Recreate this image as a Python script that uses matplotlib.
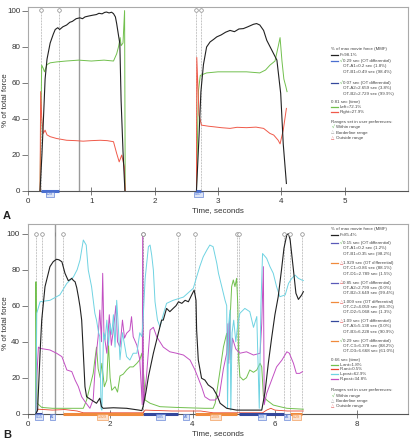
import matplotlib
matplotlib.use('Agg')
import matplotlib.pyplot as plt
from matplotlib.lines import Line2D

# ---------------- Panel A data ----------------
a_black1_t = [0.19, 0.22, 0.25, 0.27, 0.30, 0.35, 0.40, 0.43, 0.47, 0.50, 0.55, 0.61, 0.66, 0.70, 0.76, 0.82, 0.86, 0.90, 0.96, 1.03, 1.08, 1.12, 1.17, 1.21, 1.24, 1.28, 1.32, 1.35, 1.38, 1.40, 1.43, 1.45, 1.47, 1.50, 1.53]
a_black1_v = [0, 20, 45, 62, 73, 82, 87, 89.5, 90.5, 89.5, 91, 92, 93.5, 94, 95.5, 96, 95.5, 96.5, 97, 97.5, 97.8, 98.5, 98.2, 99, 99.2, 98.7, 99.1, 98.3, 96.5, 92.8, 86, 81.7, 50, 22, 0]
a_green1_t = [0.19, 0.20, 0.216, 0.24, 0.26, 0.30, 0.35, 0.45, 0.60, 0.80, 1.00, 1.20, 1.35, 1.40, 1.43, 1.455, 1.47, 1.50, 1.525, 1.535]
a_green1_v = [0, 30, 69.7, 68, 66, 70, 71, 71.5, 72, 72.5, 72, 72.5, 72, 76, 80, 85, 80.5, 82, 100, 0]
a_red1_t = [0.19, 0.20, 0.216, 0.24, 0.27, 0.30, 0.35, 0.45, 0.61, 0.75, 0.87, 1.00, 1.14, 1.25, 1.35, 1.40, 1.44, 1.48, 1.52, 1.535]
a_red1_v = [0, 55, 41, 31.8, 33.6, 31, 30, 29, 28, 27.8, 27.5, 27.8, 28, 27.8, 27.2, 20.7, 16, 19.8, 13.3, 0]

a_black2_t = [2.66, 2.70, 2.73, 2.77, 2.82, 2.875, 2.93, 2.98, 3.05, 3.12, 3.19, 3.26, 3.33, 3.40, 3.47, 3.56, 3.61, 3.66, 3.72, 3.77, 3.85, 3.93, 3.99, 4.03, 4.08]
a_black2_v = [0, 30, 55, 70, 79.8, 82.6, 84, 85.4, 86.5, 88, 89, 88.3, 89.8, 90, 91, 92.4, 92.8, 92, 89, 83.5, 78, 72.5, 54, 26, 4]
a_green2_t = [2.66, 2.69, 2.72, 2.82, 3.00, 3.19, 3.45, 3.66, 3.75, 3.82, 3.90, 3.95, 3.98, 4.01, 4.04, 4.07, 4.09]
a_green2_v = [0, 55, 64, 65.4, 66, 66, 66, 65.4, 67, 69.7, 72, 80, 85, 72, 62, 58, 55]
a_red2_t = [2.66, 2.665, 2.70, 2.74, 2.85, 2.93, 3.05, 3.19, 3.30, 3.45, 3.60, 3.72, 3.82, 3.88, 3.95, 3.98, 4.03, 4.08]
a_red2_v = [0, 74, 42, 36.4, 35.8, 35.5, 35, 34.6, 35.2, 35, 35.3, 34.6, 31.8, 30.9, 28, 26, 33.6, 45.7]

a_ot_times = [0.2, 0.49, 2.659, 2.729]
a_time_cursor = 0.81
a_bars = [(0.2, 0.49), (2.659, 2.729)]
a_box_labels = ["0.29", "0.07"]
a_xticks = [0, 1, 2, 3, 4, 5]

# ---------------- Panel B data ----------------
b_black_t = [0.20, 0.24, 0.30, 0.34, 0.42, 0.54, 0.62, 0.70, 0.76, 0.83, 0.905, 0.985, 1.03, 1.07, 1.11, 1.15, 1.19, 1.23, 1.27, 1.31, 1.35, 1.39, 1.43, 1.55, 1.67, 1.75, 1.79, 1.83, 2.08, 2.40, 2.70, 2.77, 2.80, 2.87, 2.93, 3.05, 3.17, 3.25, 3.29, 3.37, 3.45, 3.53, 3.60, 3.66, 3.74, 3.82, 3.90, 3.98, 4.04, 4.085, 4.10, 4.14, 4.22, 4.30, 4.38, 4.50, 4.59, 4.67, 4.83, 5.07, 5.56, 5.68, 5.76, 5.84, 5.92, 6.00, 6.08, 6.16, 6.22, 6.29, 6.33, 6.37, 6.45, 6.51, 6.57, 6.65, 6.69]
b_black_v = [0, 2, 33.6, 52, 70.6, 81.7, 84.5, 85.8, 85.5, 84.4, 78, 73.9, 74.5, 75.2, 74, 73.3, 70, 65, 59.4, 52, 33.6, 15, 9.4, 7.6, 5.8, 8.6, 4, 3, 3.3, 3, 2, 1.7, 4, 12, 20.6, 33.6, 44.7, 52, 52, 58.5, 56.7, 58.5, 60, 62.2, 61.3, 63, 62.2, 66, 68.7, 63, 46.5, 29.8, 19.7, 18.7, 16, 14, 10.4, 5.8, 3, 2, 2, 2, 12, 28, 42, 55, 65, 80, 92, 99.5, 100, 96.5, 79.8, 66.9, 63.5, 66, 67.8]

b_cyan_t = [0.20, 0.22, 0.30, 0.54, 0.78, 0.95, 1.11, 1.20, 1.27, 1.31, 1.35, 1.42, 1.47, 1.55, 1.63, 1.67, 1.72, 1.75, 1.78, 1.80, 1.84, 1.88, 1.92, 1.96, 2.00, 2.04, 2.08, 2.12, 2.16, 2.20, 2.24, 2.30, 2.40, 2.48, 2.56, 2.65, 2.72, 2.77, 2.80, 2.85, 2.93, 2.97, 3.01, 3.05, 3.09, 3.15, 3.21, 3.29, 3.37, 3.53, 3.78, 4.02, 4.10, 4.18, 4.26, 4.35, 4.42, 4.50, 4.59, 4.63, 4.71, 4.79, 4.83, 4.85, 4.88, 4.91, 4.93, 4.96, 5.00, 5.05, 5.10, 5.15, 5.27, 5.39, 5.48, 5.56, 5.60, 5.62, 5.66, 5.70, 5.80, 5.88, 5.96, 6.04, 6.12, 6.25, 6.33, 6.41, 6.49, 6.57, 6.65, 6.69]
b_cyan_v = [0, 55.8, 62.2, 63, 66, 72.4, 76, 80, 85.4, 91, 96.5, 93.7, 79.8, 70.6, 55.8, 52, 45, 42.8, 3, 2, 45, 41, 52, 38, 50, 44, 55, 37, 63, 48, 30, 45, 31.7, 29.8, 33.6, 33.6, 45, 42.8, 52, 75, 92.8, 93.7, 88, 79.8, 62.2, 52, 48.3, 55, 61.3, 63, 64.8, 69.7, 76, 82, 87.2, 91, 93.7, 92.8, 83.5, 78, 70.6, 63, 60, 3, 50, 57.6, 2, 45, 52, 40, 50, 55.8, 58.5, 56.7, 48, 54, 20, 3, 60, 89, 86.3, 81.7, 78, 70.6, 65, 66, 72.4, 75.2, 77, 75.2, 74.3, 74]

b_mag_t = [0.20, 0.22, 0.26, 0.30, 0.54, 0.70, 0.83, 0.95, 1.07, 1.15, 1.23, 1.31, 1.39, 1.51, 1.59, 1.65, 1.71, 1.75, 1.79, 1.82, 1.85, 1.92, 1.98, 2.03, 2.08, 2.14, 2.18, 2.24, 2.30, 2.35, 2.40, 2.48, 2.52, 2.56, 2.65, 2.72, 2.78, 2.79, 2.81, 2.88, 2.97, 3.05, 3.13, 3.29, 3.45, 3.61, 3.78, 3.94, 4.06, 4.14, 4.22, 4.30, 4.42, 4.55, 4.65, 4.75, 4.83, 4.86, 4.88, 4.90, 4.93, 4.97, 5.05, 5.15, 5.31, 5.48, 5.64, 5.68, 5.72, 5.74, 5.80, 5.92, 6.04, 6.17, 6.29, 6.35, 6.45, 6.52, 6.60, 6.67]
b_mag_v = [0, 20, 37, 36.3, 35.4, 33.6, 31.7, 24.3, 23.4, 18.7, 15, 9.4, 6.7, 3, 8, 30, 42.8, 57.6, 40, 78, 45, 33.6, 55, 38, 46.5, 60, 40, 37, 52, 42, 44.7, 46.5, 53.9, 42.8, 38, 30, 5, 100, 5, 20, 46.5, 48, 42.8, 37, 34.4, 33.6, 32.6, 29.8, 24.3, 19.7, 15, 9.4, 7.6, 7.6, 10, 25, 33.6, 50, 28, 55, 30, 42, 36, 33.6, 34.4, 32.6, 33.6, 50, 81.7, 5, 11.3, 18.7, 26, 29.8, 34.4, 33.6, 28, 22.4, 22.4, 23.4]

b_green_t = [0.19, 0.20, 0.215, 0.23, 0.34, 0.60, 1.00, 1.35, 1.43, 1.51, 1.59, 1.63, 1.67, 1.71, 1.76, 1.80, 1.86, 1.92, 1.96, 2.00, 2.04, 2.12, 2.18, 2.24, 2.32, 2.40, 2.48, 2.56, 2.65, 2.72, 2.77, 2.82, 2.85, 2.97, 3.21, 3.60, 4.00, 4.30, 4.50, 4.55, 4.67, 4.75, 4.83, 4.88, 4.91, 4.95, 4.99, 5.03, 5.07, 5.10, 5.12, 5.15, 5.23, 5.31, 5.39, 5.48, 5.56, 5.64, 5.68, 5.72, 5.80, 5.96, 6.12, 6.29, 6.45, 6.69]
b_green_v = [0, 73.3, 30, 5.8, 3.5, 3, 3, 3, 7.6, 15, 22.4, 30, 37, 25, 20, 28, 15, 18.7, 39, 20, 13, 15, 12, 21, 22, 24.3, 26, 26, 28, 30, 33.6, 20, 7.6, 5.8, 3.9, 3.5, 3.2, 3, 3, 5.8, 24.3, 37, 44.7, 30, 52, 70.6, 74.3, 70.6, 75.2, 60, 30, 20.6, 18.7, 20, 24.3, 23, 24.3, 28, 26, 10, 7.6, 4.8, 3.9, 3, 2.8, 2.5]

b_rant_t = [0.20, 0.25, 0.60, 0.90, 1.20, 1.35, 2.80, 2.85, 3.50, 4.20, 4.50, 5.70, 5.80, 5.90, 6.00, 6.30, 6.69]
b_rant_v = [0, 2.5, 2, 2.3, 1.5, 0.5, 0.5, 2, 1.5, 1.5, 0.5, 0.5, 2, 3, 2, 1.5, 1.5]

b_ot_times = [0.2, 0.35, 0.86, 2.789, 2.799, 3.649, 4.059, 5.068, 5.138, 6.228, 6.378, 6.668]
b_time_cursor = 0.66
b_bars_ab = [(0.2, 0.35), (2.799, 3.649), (5.138, 6.228)]
b_bars_cd = [(0.86, 2.789), (4.059, 5.068), (6.378, 6.668)]
b_box_pos = [0.275, 0.60, 1.82, 3.22, 3.84, 4.56, 5.68, 6.29, 6.52]
b_box_kind = ['ab', 'ab', 'cd', 'ab', 'ab', 'cd', 'ab', 'ab', 'cd']
b_box_labels = ["0.15", "A1", "1.929", "0.85", "A2", "1.009", "1.09", "A3", "0.29"]
b_xticks = [0, 2, 4, 6, 8]

# ---------------- styling ----------------
W, H = 411, 441
FONT = ['Liberation Sans Narrow', 'Liberation Sans', 'DejaVu Sans']
plt.rcParams['font.family'] = FONT

C_BLACK = '#222222'
C_GREEN = '#72c04e'
C_RED = '#f05a4a'
C_CYAN = '#6fd3e2'
C_MAG = '#c24fc2'
C_NAVY = '#34489c'
C_BLUE = '#4a6fd0'
C_ORANGE = '#f08a3c'
C_RANT = '#e8432a'
C_TXT = '#444444'

fig = plt.figure(figsize=(W / 100, H / 100), dpi=100)


def fx(x):
    return x / W


def fy(y):
    return 1 - y / H


axA = fig.add_axes([fx(28), fy(190.7), (408 - 28) / W, (190.7 - 7) / H])
axB = fig.add_axes([fx(27.7), fy(413.7), (408 - 27.7) / W, (413.7 - 224) / H])


def style(ax, xmax, ymax, xticks):
    ax.set_xlim(0, xmax)
    ax.set_ylim(0, ymax)
    for s in ['top', 'right', 'left']:
        ax.spines[s].set_color('#aaaaaa')
        ax.spines[s].set_linewidth(0.8)
    ax.spines['bottom'].set_color('#555555')
    ax.spines['bottom'].set_linewidth(0.8)
    ax.set_yticks([0, 20, 40, 60, 80, 100])
    ax.set_xticks(xticks)
    ax.tick_params(axis='y', direction='out', length=4, width=0.6, color='#666666',
                   labelsize=5.8, pad=1.5, labelcolor='#333333')
    ax.tick_params(axis='x', direction='inout', length=6, width=0.6, color='#666666',
                   labelsize=5.8, pad=2, labelcolor='#333333')


style(axA, 6.0, 102, a_xticks)
style(axB, 9.23, 105.4, b_xticks)

lw = 0.7
# Panel A curves
axA.plot(a_green1_t, a_green1_v, color=C_GREEN, lw=lw)
axA.plot(a_red1_t, a_red1_v, color=C_RED, lw=lw)
axA.plot(a_black1_t, a_black1_v, color=C_BLACK, lw=0.8)
axA.plot(a_green2_t, a_green2_v, color=C_GREEN, lw=lw)
axA.plot(a_red2_t, a_red2_v, color=C_RED, lw=lw)
axA.plot(a_black2_t, a_black2_v, color=C_BLACK, lw=0.8)

# Panel B curves
axB.plot(b_green_t, b_green_v, color=C_GREEN, lw=lw)
axB.plot(b_rant_t, b_rant_v, color=C_RANT, lw=0.6)
axB.plot(b_mag_t, b_mag_v, color=C_MAG, lw=lw)
axB.plot(b_cyan_t, b_cyan_v, color=C_CYAN, lw=lw)
axB.plot(b_black_t, b_black_v, color=C_BLACK, lw=0.8)


def markers(ax, times, ytop, ymark, cursor):
    for t in times:
        ax.plot([t, t], [0, ymark], ls=(0, (1, 1.2)), color='#888888', lw=0.5, zorder=1)
        ax.plot([t], [ymark + 0.8], marker='o', ms=2.6, mfc='white', mec='#888888',
                mew=0.5, clip_on=False, zorder=5)
    ax.plot([cursor, cursor], [0, ytop], color='#9a9a9a', lw=1.0, zorder=1)
    ax.plot([cursor], [ymark + 0.8], marker='|', ms=3, color='#888888', mew=0.6, zorder=5)


markers(axA, a_ot_times, 102, 99.5, a_time_cursor)
markers(axB, b_ot_times, 105.4, 99.3, b_time_cursor)


def bar(ax, a, b, color):
    ax.plot([a, b], [0, 0], color=color, lw=2.2, solid_capstyle='butt', clip_on=False, zorder=6)


def box(ax, t, y, label, kind):
    ec = C_BLUE if kind == 'ab' else C_ORANGE
    fc = '#dde5f6' if kind == 'ab' else '#fbe2d0'
    ax.text(t, y, label, fontsize=2.6, ha='center', va='center', color=ec,
            bbox=dict(boxstyle='square,pad=0.2', fc=fc, ec=ec, lw=0.4), clip_on=False, zorder=7)


for (a, b) in a_bars:
    bar(axA, a, b, C_BLUE)
for (a, b), lab in zip(a_bars, a_box_labels):
    box(axA, (a + b) / 2, -2.0, lab, 'ab')

for (a, b) in b_bars_ab:
    bar(axB, a, b, C_NAVY)
for (a, b) in b_bars_cd:
    bar(axB, a, b, C_ORANGE)
for t, k, lab in zip(b_box_pos, b_box_kind, b_box_labels):
    box(axB, t, -1.8, lab, k)

# axis labels
for yl, yt in [(100, 211), (323, 434)]:
    fig.text(fx(6), fy(yl), '% of total force', rotation=90, fontsize=5.8,
             ha='center', va='center', color='#333333')
    fig.text(fx(218), fy(yt), 'Time, seconds', fontsize=5.8, ha='center',
             va='center', color='#333333')
fig.text(fx(7), fy(216), 'A', fontsize=8, fontweight='bold', ha='center', va='center', color='#222222')
fig.text(fx(7), fy(435.5), 'B', fontsize=8, fontweight='bold', ha='center', va='center', color='#222222')

# ---------------- legends ----------------
LFS = 3.2
SYM_FONT = ['DejaVu Sans']


def ltext(x, y, s, color=C_TXT):
    fig.text(fx(x), fy(y), s, fontsize=LFS, ha='left', va='center', color=color)


def lline(y, color):
    fig.add_artist(Line2D([fx(331), fx(337.5)], [fy(y), fy(y)], color=color, lw=0.9))


def sym(x, y, kind):
    if kind == 'check':
        fig.text(fx(x), fy(y), '\u221a', fontsize=LFS, ha='left', va='center', color='#4caf3a',
                 family=SYM_FONT)
    elif kind == 'tri_gray':
        fig.text(fx(x), fy(y), '\u25b3', fontsize=LFS, ha='left', va='center', color='#999999',
                 family=SYM_FONT)
    elif kind == 'tri_red':
        fig.text(fx(x), fy(y), '\u25b3', fontsize=LFS, ha='left', va='center', color='#e04040',
                 family=SYM_FONT)


def ot_group(y, color, kind, head, l1, l2, step=5.2):
    lline(y, color)
    sym(339.5, y, kind)
    ltext(343, y, head)
    ltext(343, y + step, l1)
    ltext(343, y + 2 * step, l2)


def ranges(y, step=5.4):
    ltext(331, y, 'Ranges set in user preferences:')
    sym(331.5, y + step, 'check')
    ltext(336, y + step, 'Within range')
    sym(331, y + 2 * step, 'tri_gray')
    ltext(336, y + 2 * step, 'Borderline range')
    sym(331, y + 3 * step, 'tri_red')
    ltext(336, y + 3 * step, 'Outside range')


# Legend A
ltext(331, 49, '% of max movie force (MMF)')
lline(54.5, C_BLACK)
ltext(340, 54.5, 'F=98.1%')
ot_group(61, C_BLUE, 'check', '0.29 sec (OT differential)',
         'OT-A1=0.2 sec (1.8%)', 'OT-B1=0.49 sec (98.4%)', step=5.3)
ot_group(83.3, C_NAVY, 'check', '0.07 sec (OT differential)',
         'OT-A2=2.659 sec (3.8%)', 'OT-B2=2.729 sec (99.9%)', step=5.2)
ltext(331, 102.3, '0.81 sec (time)')
lline(107.3, C_GREEN)
ltext(340, 107.3, 'Left=72.1%')
lline(112.3, C_RED)
ltext(340, 112.3, 'Right=27.9%')
ranges(121.7)

# Legend B
ltext(331, 229.3, '% of max movie force (MMF)')
lline(234.7, C_BLACK)
ltext(340, 234.7, 'F=85.4%')
ot_group(243.3, '#5a5ab8', 'check', '0.15 sec (OT differential)',
         'OT-A1=0.2 sec (1.2%)', 'OT-B1=0.35 sec (98.2%)')
ot_group(263.3, C_ORANGE, 'tri_red', '1.929 sec (OT differential)',
         'OT-C1=0.86 sec (88.1%)', 'OT-D1=2.789 sec (1.5%)')
ot_group(282.7, '#5a5ab8', 'tri_red', '0.85 sec (OT differential)',
         'OT-A2=2.799 sec (0.0%)', 'OT-B2=3.649 sec (99.4%)')
ot_group(302, C_ORANGE, 'tri_red', '1.009 sec (OT differential)',
         'OT-C2=4.059 sec (86.3%)', 'OT-D2=5.068 sec (1.3%)')
ot_group(321.3, C_NAVY, 'tri_red', '1.09 sec (OT differential)',
         'OT-A3=5.138 sec (0.0%)', 'OT-B3=6.228 sec (90.9%)')
ot_group(341, C_ORANGE, 'check', '0.29 sec (OT differential)',
         'OT-C3=6.378 sec (88.2%)', 'OT-D3=6.668 sec (61.0%)')
ltext(331, 360, '0.66 sec (time)')
for yy, col, lab in [(364.7, C_GREEN, 'L-ant=1.8%'), (369.3, C_RANT, 'R-ant=0.5%'),
                     (374.3, C_CYAN, 'L-post=62.9%'), (379, C_MAG, 'R-post=34.8%')]:
    lline(yy, col)
    ltext(340, yy, lab)
ranges(390.3)

fig.savefig('out.png', dpi=100)
